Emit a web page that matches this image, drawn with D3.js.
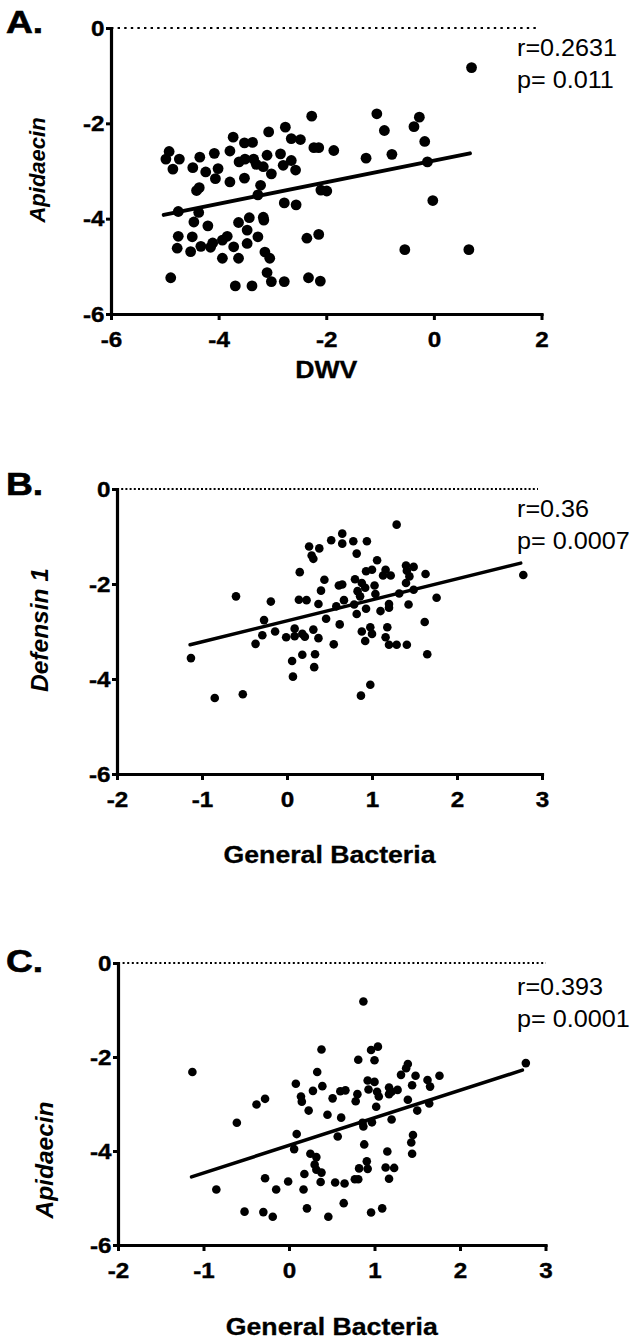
<!DOCTYPE html>
<html><head><meta charset="utf-8">
<script src="https://cdn.jsdelivr.net/npm/d3@7"></script>
<style>body{margin:0;background:#fff}svg{display:block}</style>
</head><body>
<svg id="chart" width="642" height="1343"></svg>
<script>
// ---------- DATA ----------
const aX = [-2.27,-3.07,-2.76,-3.73,-3.52,-3.37,-2.65,-2.48,-2.23,-2.14,-4.92,-4.98,-4.73,-4.85,-4.35,-4.48,-4.08,-3.79,-4.24,-4.01,
 -4.06,-3.62,-3.51,-3.35,-3.30,-3.17,-3.10,-2.85,-2.65,-2.80,-2.57,-3.02,-3.79,-3.52,-4.36,-4.41,-3.22,-3.27,-2.78,-2.56,
 -4.75,-4.37,-4.46,-4.20,-3.63,-3.43,-3.17,-3.16,-3.47,-3.27,-3.47,-4.75,-4.49,-3.84,-3.93,-4.77,-4.52,-4.33,-4.15,-4.11,
 -3.93,-3.72,-3.63,-3.14,-3.05,-3.10,-3.02,-2.78,-4.89,-3.69,-3.38,-2.36,-2.33,-2.11,-2.14,-2.10,
 0.70,-1.06,-0.92,-0.27,-0.37,-0.17,-0.12,-1.26,-0.78,-1.86,-1.99,-0.02,-0.54,0.65];
const aY = [-1.85,-2.18,-2.08,-2.29,-2.41,-2.40,-2.32,-2.34,-2.51,-2.51,-2.59,-2.75,-2.75,-2.96,-2.71,-2.93,-2.63,-2.58,-3.02,-2.95,
 -3.16,-2.81,-2.75,-2.75,-2.86,-2.91,-2.67,-2.64,-2.78,-2.88,-2.98,-3.06,-3.23,-3.15,-3.35,-3.41,-3.30,-3.50,-3.67,-3.71,
 -3.85,-3.87,-4.07,-4.15,-4.08,-3.98,-3.97,-4.03,-4.24,-4.38,-4.52,-4.37,-4.38,-4.37,-4.45,-4.62,-4.69,-4.58,-4.60,-4.51,
 -4.83,-4.59,-4.83,-4.70,-4.83,-5.13,-5.32,-5.32,-5.24,-5.41,-5.41,-4.41,-5.24,-5.31,-4.33,-3.40,
 -0.83,-1.80,-2.15,-1.87,-2.07,-2.38,-2.81,-2.73,-2.65,-2.57,-3.42,-3.62,-4.65,-4.65];
const aFitX = [-5.02, 0.67];
const aFitY = [-3.92, -2.63];

const bX = [1.29,0.65,0.52,0.65,0.78,0.94,0.26,0.38,0.29,0.31,0.82,1.06,0.15,0.93,1.00,1.16,1.13,1.22,1.40,1.49,
 1.41,1.63,1.44,1.40,0.44,0.61,0.65,0.80,0.88,0.92,1.03,0.40,0.83,0.86,1.04,1.32,1.49,-0.60,-0.19,0.14,
 0.23,0.37,0.67,0.58,0.79,0.93,0.82,1.10,1.20,1.20,1.43,1.76,-0.27,0.46,0.62,-0.29,-0.14,-0.37,-0.01,0.09,
 0.09,0.18,0.21,0.31,0.37,0.55,0.88,0.98,1.00,0.92,1.18,1.16,1.20,1.29,1.41,1.62,1.65,-1.13,0.18,0.33,
 0.06,0.32,0.07,-0.85,-0.52,0.87,0.98,2.78];
const bY = [-0.75,-0.94,-1.08,-1.15,-1.10,-1.10,-1.21,-1.25,-1.40,-1.47,-1.36,-1.50,-1.75,-1.73,-1.70,-1.70,-1.82,-1.82,-1.61,-1.64,
 -1.72,-1.79,-1.84,-1.98,-1.91,-2.03,-2.01,-1.90,-1.98,-2.08,-2.03,-2.14,-2.15,-2.26,-2.21,-2.20,-2.12,-2.26,-2.37,-2.33,
 -2.34,-2.42,-2.34,-2.47,-2.43,-2.52,-2.63,-2.57,-2.42,-2.50,-2.43,-2.29,-2.76,-2.73,-2.85,-3.08,-3.00,-3.26,-3.12,-2.94,
 -3.10,-3.05,-3.11,-2.96,-3.14,-3.27,-3.00,-2.91,-3.05,-3.20,-2.91,-3.12,-3.28,-3.28,-3.28,-2.80,-3.48,-3.56,-3.49,-3.48,
 -3.62,-3.75,-3.95,-4.40,-4.32,-4.35,-4.12,-1.81];
const bFitX = [-1.14, 2.75];
const bFitY = [-3.28, -1.56];

const cX = [0.87,-1.13,0.38,0.96,1.04,0.81,1.00,0.33,1.39,1.37,1.31,1.48,1.62,1.76,1.65,0.08,0.28,0.39,0.60,0.66,
 0.80,0.92,1.00,0.93,1.03,1.05,1.17,1.20,1.27,1.17,1.44,1.39,1.64,1.50,0.14,0.15,-0.28,-0.38,0.23,0.51,
 0.78,0.45,0.61,1.02,1.20,-0.61,0.87,0.97,0.86,0.09,0.57,1.45,1.43,1.44,0.88,0.06,0.25,0.32,0.30,0.32,
 0.38,0.37,0.18,-0.28,-0.01,-0.15,0.17,0.54,0.65,0.77,0.81,0.82,0.91,0.92,1.15,1.13,1.23,1.17,-0.85,-0.52,
 -0.30,-0.19,0.21,0.64,0.46,0.96,1.09,2.77];
const cY = [-0.82,-2.32,-1.84,-1.85,-1.78,-2.06,-2.07,-2.32,-2.15,-2.24,-2.38,-2.40,-2.49,-2.40,-2.63,-2.57,-2.72,-2.62,-2.73,-2.71,
 -2.79,-2.50,-2.53,-2.69,-2.74,-2.84,-2.65,-2.74,-2.70,-2.79,-2.60,-2.91,-2.99,-3.14,-2.84,-2.95,-2.89,-3.01,-3.14,-2.88,
 -2.94,-3.23,-3.29,-3.06,-3.33,-3.40,-3.48,-3.39,-3.40,-3.64,-3.69,-3.66,-3.82,-4.06,-3.86,-3.96,-4.06,-4.13,-4.29,-4.40,
 -4.46,-4.66,-4.49,-4.58,-4.65,-4.82,-4.82,-4.67,-4.69,-4.60,-4.60,-4.37,-4.22,-4.38,-4.01,-4.35,-4.36,-4.59,-4.82,-5.29,
 -5.30,-5.40,-5.22,-5.11,-5.40,-5.31,-5.22,-2.13];
const cFitX = [-1.14, 2.73];
const cFitY = [-4.55, -2.28];

const aXTicks = [-6,-4,-2,0,2];
const bcXTicks = [-2,-1,0,1,2,3];
const yTicks = [-6,-4,-2,0];
const tickLabel = d => (d < 0 ? "-" + Math.abs(d) : String(d));

const letters = ["A.","B.","C."];
const xTitles = ["DWV","General Bacteria","General Bacteria"];
const yTitles = ["Apidaecin","Defensin 1","Apidaecin"];
const rLabels = ["r=0.2631","r=0.36","r=0.393"];
const pLabels = ["p= 0.011","p= 0.0007","p= 0.0001"];

// ---------- LAYOUT ----------
const FONT = "'Liberation Sans', Arial, Helvetica, sans-serif";
const panels = [
  {xs:aX, ys:aY, fx:aFitX, fy:aFitY, xt:aXTicks, left:111, right:541.5, top:28, bottom:314,
   r:5.4, fitW:4, dash:"2.4,4.2", dotEnd:537, letterY:33, xTitleY:378, yTitleX:45, yTitleY:170, yTitleSize:22,
   statY:[56,88]},
  {xs:bX, ys:bY, fx:bFitX, fy:bFitY, xt:bcXTicks, left:117, right:542, top:489, bottom:774,
   r:4.3, fitW:3.5, dash:"2,2.2", dotEnd:538, letterY:495, xTitleY:863, yTitleX:48, yTitleY:630, yTitleSize:24.5,
   statY:[517,549]},
  {xs:cX, ys:cY, fx:cFitX, fy:cFitY, xt:bcXTicks, left:118, right:545.5, top:963, bottom:1245,
   r:4.3, fitW:3.5, dash:"2,2.6", dotEnd:546, letterY:972, xTitleY:1335, yTitleX:53, yTitleY:1160, yTitleSize:24.5,
   statY:[995,1027]}
];

const svg = d3.select("#chart");

panels.forEach((p, i) => {
  const g = svg.append("g");
  const x = d3.scaleLinear().domain([p.xt[0], p.xt[p.xt.length-1]]).range([p.left, p.right]);
  const y = d3.scaleLinear().domain([-6, 0]).range([p.bottom, p.top]);

  // zero reference line (dotted)
  g.append("line")
    .attr("x1", x(p.xt[0])).attr("x2", p.dotEnd)
    .attr("y1", y(0)).attr("y2", y(0))
    .attr("stroke", "#000").attr("stroke-width", 2.2)
    .attr("stroke-dasharray", p.dash);

  // axes
  const xAxis = g.append("g").attr("transform", `translate(0,${p.bottom})`)
    .call(d3.axisBottom(x).tickValues(p.xt).tickFormat(tickLabel).tickSize(6).tickSizeOuter(0).tickPadding(11));
  const yAxis = g.append("g").attr("transform", `translate(${p.left},0)`)
    .call(d3.axisLeft(y).tickValues(yTicks).tickFormat(tickLabel).tickSize(5).tickSizeOuter(0).tickPadding(1));
  [xAxis, yAxis].forEach(ax => {
    ax.select(".domain").attr("stroke", "#000").attr("stroke-width", 3.2).attr("stroke-linecap", "square");
    ax.selectAll(".tick line").attr("stroke", "#000").attr("stroke-width", 3);
    ax.selectAll(".tick text").attr("fill", "#000")
      .style("font-family", FONT).style("font-weight", "bold").style("font-size", "22px")
      .attr("stroke", "#000").attr("stroke-width", 0.4)
      .attr("transform", "scale(1.1,1)");
  });

  // points
  g.append("g").selectAll("circle").data(p.xs.map((v, k) => [v, p.ys[k]])).join("circle")
    .attr("cx", d => x(d[0])).attr("cy", d => y(d[1])).attr("r", p.r).attr("fill", "#000");

  // regression line
  g.append("line")
    .attr("x1", x(p.fx[0])).attr("y1", y(p.fy[0]))
    .attr("x2", x(p.fx[1])).attr("y2", y(p.fy[1]))
    .attr("stroke", "#000").attr("stroke-width", p.fitW).attr("stroke-linecap", "round");

  // statistics text
  [rLabels[i], pLabels[i]].forEach((t, k) => {
    g.append("text").text(t)
      .attr("transform", `translate(517,${p.statY[k]}) scale(1.05,1)`)
      .style("font-family", FONT).style("font-size", "24px").attr("fill", "#000");
  });

  // panel letter
  g.append("text").text(letters[i])
    .attr("transform", `translate(6,${p.letterY}) scale(1.2,1)`)
    .style("font-family", FONT).style("font-weight", "bold").style("font-size", "31px")
    .attr("stroke", "#000").attr("stroke-width", 0.6).attr("fill", "#000");

  // x title
  g.append("text").text(xTitles[i])
    .attr("transform", `translate(${(p.left + p.right) / 2},${p.xTitleY}) scale(1.16,1)`)
    .attr("text-anchor", "middle")
    .style("font-family", FONT).style("font-weight", "bold").style("font-size", "23px")
    .attr("stroke", "#000").attr("stroke-width", 0.3).attr("fill", "#000");

  // y title
  g.append("text").text(yTitles[i])
    .attr("transform", `translate(${p.yTitleX},${p.yTitleY}) rotate(-90)`)
    .attr("text-anchor", "middle")
    .style("font-family", FONT).style("font-weight", "bold").style("font-style", "italic")
    .style("font-size", p.yTitleSize + "px").attr("fill", "#000");
});
</script>
</body></html>
